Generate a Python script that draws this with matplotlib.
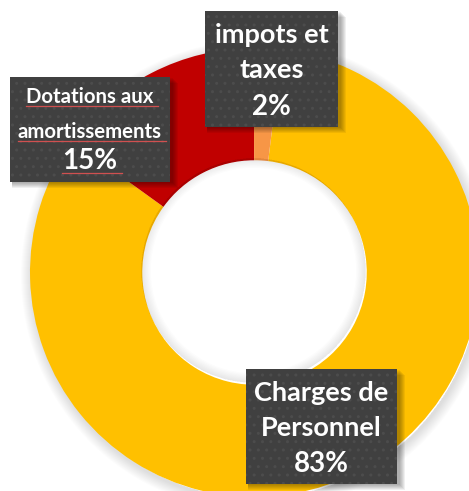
import matplotlib
matplotlib.use('Agg')
import matplotlib.pyplot as plt
from matplotlib.patches import Rectangle, Circle, Wedge

# donnees
categories = ['Charges de Personnel', 'Dotations aux amortissements', 'impots et taxes']
label_lines = [['Charges de', 'Personnel'], ['Dotations aux', 'amortissements'], ['impots et', 'taxes']]
shares = [83, 15, 2]
colors = ['#FFC000', '#C00000', '#F79646']

W, H = 469, 491
fig = plt.figure(figsize=(W / 100, H / 100), dpi=100)
ax = fig.add_axes([0, 0, 1, 1])

cx, cy, r_out = 254.5, H - 272.5, 224.5
r_in = r_out * 0.5

# ombre douce autour de l'anneau
for k in range(1, 12):
    ax.add_patch(Wedge((cx + 2, cy - 3), r_out + k, 0, 360, width=k + 2,
                       color='#000000', alpha=0.012, lw=0, zorder=0))

ax.pie(shares, colors=colors, startangle=83, counterclock=False,
       center=(cx, cy), radius=r_out,
       wedgeprops=dict(width=r_out - r_in, linewidth=0))

ax.set_xlim(0, W)
ax.set_ylim(0, H)
ax.set_aspect('auto')
ax.axis('off')

# ombre interieure du trou
for k in range(1, 9):
    ax.add_patch(Wedge((cx - 1, cy + 2), r_in, 0, 360, width=k * 1.2,
                       color='#000000', alpha=0.012, lw=0, zorder=2))


def label_box(x0, y0, x1, y1, lines, pct, ys, size, pct_size, underline=False):
    # ombre portee
    for k in range(6, 0, -1):
        ax.add_patch(Rectangle((x0 + 2, H - y1 - k), x1 - x0 + k, y1 - y0,
                               color='#000000', alpha=0.06, lw=0, zorder=3))
    ax.add_patch(Rectangle((x0, H - y1), x1 - x0, y1 - y0, facecolor='#404040',
                           edgecolor='#4c4c4c', hatch='..', lw=0, zorder=4))
    xm = (x0 + x1) / 2
    texts = lines + [pct]
    sizes = [size] * len(lines) + [pct_size]
    for t, y, s in zip(texts, ys, sizes):
        tx = ax.text(xm, H - y, t, ha='center', va='center', color='white',
                     fontsize=s, fontweight='bold', family='Lato', zorder=5)
        if underline:
            fig.canvas.draw()
            bb = tx.get_window_extent().transformed(ax.transData.inverted())
            ax.plot([bb.x0, bb.x1 + 4], [bb.y0 + 1, bb.y0 + 1], color='#d05050', lw=0.9, zorder=6)


label_box(246, 369, 397, 484, label_lines[0], f'{shares[0]}%', [393, 428, 464], 19.5, 20)
label_box(10, 77, 170, 182, label_lines[1], f'{shares[1]}%', [97, 132, 161], 14.7, 20, underline=True)
label_box(205, 11, 338, 127, label_lines[2], f'{shares[2]}%', [35, 70, 107], 19.5, 20)

fig.savefig('out.png', dpi=100)
